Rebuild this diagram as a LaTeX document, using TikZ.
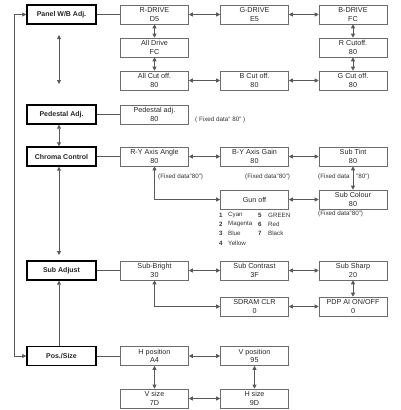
\documentclass[tikz,border=0pt]{standalone}
\usepackage{fontspec}
\setmainfont{Liberation Sans}
\usetikzlibrary{arrows.meta}
\begin{document}
\begin{tikzpicture}[x=1pt,y=-1pt,
 mainbox/.style={draw=black, line width=1.4pt, minimum width=69pt, minimum height=19pt, font=\bfseries\fontsize{7}{8}\selectfont, inner sep=0pt, text=black!85},
 subbox/.style={draw=gray!85!black, line width=0.6pt, minimum width=68pt, minimum height=19pt, font=\fontsize{7.2}{8.5}\selectfont, align=center, inner sep=0pt, text=black!85},
 conn/.style={draw=gray!70!black, line width=0.8pt},
 dbl/.style={conn, {Triangle[length=4pt,width=4pt]}-{Triangle[length=4pt,width=4pt]}},
 sgl/.style={conn, -{Triangle[length=4pt,width=4pt]}},
 note/.style={font=\fontsize{6.3}{7}\selectfont, inner sep=0pt, anchor=west, text=black!80},
 lst/.style={font=\fontsize{6.2}{7}\selectfont, inner sep=0pt, anchor=west, text=black!80}
]
\useasboundingbox (0,0) rectangle (400,410);
% left column
\node[mainbox] (panel) at (61.5,14.5) {Panel W/B Adj.};
\node[mainbox] (ped) at (61.5,114.5) {Pedestal Adj.};
\node[mainbox] (chr) at (61.5,156.5) {Chroma Control};
\node[mainbox] (sub) at (61.5,270.5) {Sub Adjust};
\node[mainbox] (pos) at (61.5,356) {Pos./Size};
% panel W/B
\node[subbox] (rd) at (154.5,14.5) {R-DRIVE\\D5};
\node[subbox] (gd) at (254.5,14.5) {G-DRIVE\\E5};
\node[subbox] (bd) at (353,14.5) {B-DRIVE\\FC};
\node[subbox] (ad) at (154.5,47.5) {All Drive\\FC};
\node[subbox] (rc) at (353,47.5) {R Cutoff.\\80};
\node[subbox] (ac) at (154.5,80.5) {All Cut off.\\80};
\node[subbox] (bc) at (254.5,80.5) {B Cut off.\\80};
\node[subbox] (gc) at (353,80.5) {G Cut off.\\80};
% pedestal
\node[subbox] (pa) at (154.5,114.5) {Pedestal adj.\\80};
\node[note] (pnote) at (195,120) {( Fixed data" 80" )};
% chroma
\node[subbox] (ry) at (154.5,156.5) {R-Y Axis Angle\\80};
\node[subbox] (by) at (254.5,156.5) {B-Y Axis Gain\\80};
\node[subbox] (st) at (353,156.5) {Sub Tint\\80};
\node[subbox] (gun) at (254.5,199.5) {Gun off};
\node[subbox] (sc) at (353,199.5) {Sub Colour\\80};
\node[note] (n1) at (158,177) {(Fixed data"80")};
\node[note] (n2) at (245,177) {(Fixed data"80")};
\node[note] (n3a) at (318,177) {(Fixed data};
\node[note] (n3b) at (356,177) {"80")};
\node[note] (n4) at (318,214) {(Fixed data"80")};
\node[lst] (g1) at (219,215) {\textbf{1}}; \node[lst] (c1) at (228,215) {Cyan};
\node[lst] (g2) at (219,224.3) {\textbf{2}}; \node[lst] (c2) at (228,224.3) {Magenta};
\node[lst] (g3) at (219,233.6) {\textbf{3}}; \node[lst] (c3) at (228,233.6) {Blue};
\node[lst] (g4) at (219,243) {\textbf{4}}; \node[lst] (c4) at (228,243) {Yellow};
\node[lst] (g5) at (258,215) {\textbf{5}}; \node[lst] (c5) at (268,215) {GREEN};
\node[lst] (g6) at (258,224.3) {\textbf{6}}; \node[lst] (c6) at (268,224.3) {Red};
\node[lst] (g7) at (258,233.6) {\textbf{7}}; \node[lst] (c7) at (268,233.6) {Black};
% sub adjust
\node[subbox] (sb) at (154.5,270.5) {Sub-Bright\\30};
\node[subbox] (scn) at (254.5,270.5) {Sub Contrast\\3F};
\node[subbox] (ss) at (353,270.5) {Sub Sharp\\20};
\node[subbox] (sd) at (254.5,306.5) {SDRAM CLR\\0};
\node[subbox] (pdp) at (353,306.5) {PDP AI ON/OFF\\0};
% pos/size
\node[subbox] (hp) at (154.5,356) {H position\\A4};
\node[subbox] (vp) at (254.5,356) {V position\\95};
\node[subbox] (vs) at (154.5,398.5) {V size\\7D};
\node[subbox] (hs) at (254.5,398.5) {H size\\9D};
% coordinates
\coordinate (pp1) at (59,35);
\coordinate (pp2) at (59,84);
\coordinate (cs2) at (59,255);
% left connectors
\draw[dbl] (panel.west) -- ++(-12,0) |- (pos.west);
\draw[dbl] (pp1) -- (pp2);
\draw[dbl] ([xshift=-2.5pt]ped.south) -- ([xshift=-2.5pt]chr.north);
\draw[dbl] ([xshift=-2.5pt]chr.south) -- (cs2);
\draw[sgl] ([xshift=-2.5pt]pos.north) -- ([xshift=-2.5pt]sub.south);
\foreach \a/\b in {panel/rd,ped/pa,chr/ry,sub/sb,pos/hp} \draw[conn] (\a.east) -- (\b.west);
% panel W/B
\draw[dbl] (rd) -- (gd);
\draw[dbl] (gd) -- (bd);
\draw[dbl] (bd) -- (rc);
\draw[dbl] (rc) -- (gc);
\draw[dbl] (gc) -- (bc);
\draw[dbl] (bc) -- (ac);
\draw[dbl] (ac) -- (ad);
\draw[dbl] (ad) -- (rd);
% chroma
\draw[dbl] (ry) -- (by);
\draw[dbl] (by) -- (st);
\draw[dbl] (st) -- (sc);
\draw[dbl] (sc) -- (gun);
\draw[dbl] (ry.south) |- (gun.west);
% sub
\draw[dbl] (sb) -- (scn);
\draw[dbl] (scn) -- (ss);
\draw[dbl] (ss) -- (pdp);
\draw[dbl] (pdp) -- (sd);
\draw[dbl] (sb.south) |- (sd.west);
% pos
\draw[dbl] (hp) -- (vp);
\draw[dbl] (vp) -- (hs);
\draw[dbl] (hs) -- (vs);
\draw[dbl] (vs) -- (hp);
\end{tikzpicture}
\end{document}
